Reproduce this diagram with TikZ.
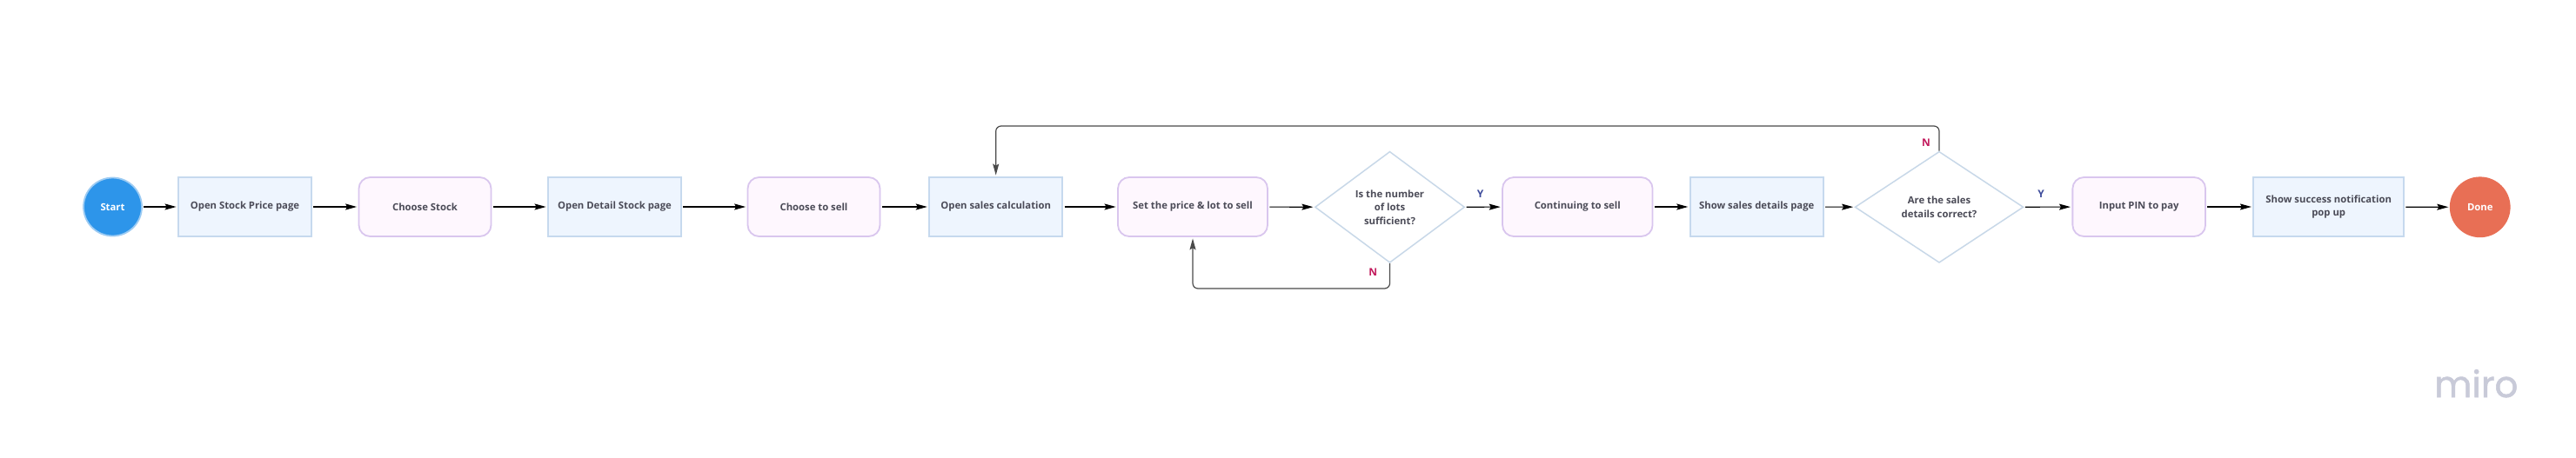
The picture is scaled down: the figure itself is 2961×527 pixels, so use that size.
\documentclass[tikz,border=0pt]{standalone}
\usepackage{fontspec}
\setmainfont{Open Sans}
\newfontfamily\logofont[FakeBold=1.2]{Poppins}
\usetikzlibrary{shapes.geometric,arrows.meta}
\definecolor{txt}{HTML}{4B4B57}
\definecolor{procfill}{HTML}{EEF5FE}
\definecolor{procdraw}{HTML}{C6D9EE}
\definecolor{actfill}{HTML}{FEF7FE}
\definecolor{actdraw}{HTML}{D9C6EE}
\definecolor{decdraw}{HTML}{C8D8E8}
\definecolor{startfill}{HTML}{2D95EA}
\definecolor{startdraw}{HTML}{9CCBF3}
\definecolor{donefill}{HTML}{E86F55}
\definecolor{ylab}{HTML}{3D4B9B}
\definecolor{nlab}{HTML}{C2185B}
\definecolor{loopc}{HTML}{4A4A4A}
\definecolor{logoc}{HTML}{C8CAD8}
\tikzset{
  base/.style={font=\fontsize{11.3}{15.5}\selectfont\bfseries, text=txt, align=center, inner sep=0pt, line width=1.8pt},
  proc/.style={base, rectangle, fill=procfill, draw=procdraw, minimum height=68pt},
  act/.style={base, rectangle, rounded corners=13pt, fill=actfill, draw=actdraw, minimum height=68pt},
  dec/.style={base, diamond, fill=white, draw=decdraw, line width=1.5pt, minimum width=172pt, minimum height=128pt},
  term/.style={base, ellipse, text=white},
  arr/.style={line width=1.2pt, -{Stealth[length=13pt,width=7pt,inset=2pt]}, shorten >=1.5pt, shorten <=1.5pt},
  loopline/.style={arr, draw=loopc, rounded corners=6pt},
  ylabel/.style={font=\fontsize{12}{14}\selectfont\bfseries, text=ylab},
  nlabel/.style={font=\fontsize{12}{14}\selectfont\bfseries, text=nlab}
}
\begin{document}
\begin{tikzpicture}[x=1pt,y=-1pt]
\useasboundingbox[fill=white] (0,0) rectangle (2961,527);
\node[term, fill=startfill, draw=startdraw, minimum width=67pt, minimum height=67pt] (start) at (129.5,238) {Start};
\node[proc, minimum width=153pt] (b1) at (281.5,238) {Open Stock Price page};
\node[act, minimum width=152pt] (b2) at (488.5,238) {Choose Stock};
\node[proc, minimum width=153pt] (b3) at (706.5,238) {Open Detail Stock page};
\node[act, minimum width=152pt] (b4) at (935.5,238) {Choose to sell};
\node[proc, minimum width=153pt] (b5) at (1144.7,238) {Open sales calculation};
\node[act, minimum width=172pt] (b6) at (1371,238) {Set the price \& lot to sell};
\node[dec] (d1) at (1597.5,238.3) {Is the number\\of lots\\sufficient?};
\node[act, minimum width=172.5pt] (b7) at (1813.3,238) {Continuing to sell};
\node[proc, minimum width=153pt] (b8) at (2019.2,238) {Show sales details page};
\node[dec, minimum width=193.7pt] (d2) at (2229,238.3) {Are the sales\\details correct?};
\node[act, minimum width=152.7pt] (b9) at (2458.7,238) {Input PIN to pay};
\node[proc, minimum width=172.7pt] (b10) at (2676.7,238) {Show success notification\\pop up};
\node[term, fill=donefill, draw=donefill, minimum width=68pt, minimum height=68pt] (done) at (2850.7,238.3) {Done};

\draw[arr] (start) -- (b1);
\draw[arr] (b1) -- (b2);
\draw[arr] (b2) -- (b3);
\draw[arr] (b3) -- (b4);
\draw[arr] (b4) -- (b5);
\draw[arr] (b5) -- (b6);
\draw[arr] (b6) -- (d1);
\draw[arr] (d1) -- (b7);
\draw[arr] (b7) -- (b8);
\draw[arr] (b8) -- (d2);
\draw[arr] (d2) -- (b9);
\draw[arr] (b9) -- (b10);
\draw[arr] (b10) -- (done);

\coordinate (topy) at (0,145);
\coordinate (boty) at (0,332);
\draw[loopline, shorten <=0pt] (d1.south) -- (d1.south |- boty) -- (b6.south |- boty) -- (b6.south);
\draw[loopline, shorten <=0pt] (d2.north) -- (d2.north |- topy) -- (b5.north |- topy) -- (b5.north);

\node[ylabel] (y1) at (1701.7,223) {Y};
\node[ylabel] (y2) at (2346,223) {Y};
\node[nlabel] (n1) at (1578.3,313.3) {N};
\node[nlabel] (n2) at (2214,164.3) {N};

\node[font=\logofont\fontsize{42}{42}\selectfont, text=logoc, anchor=base west, inner sep=0pt] (logo) at (2798,457) {miro};
\end{tikzpicture}
\end{document}
